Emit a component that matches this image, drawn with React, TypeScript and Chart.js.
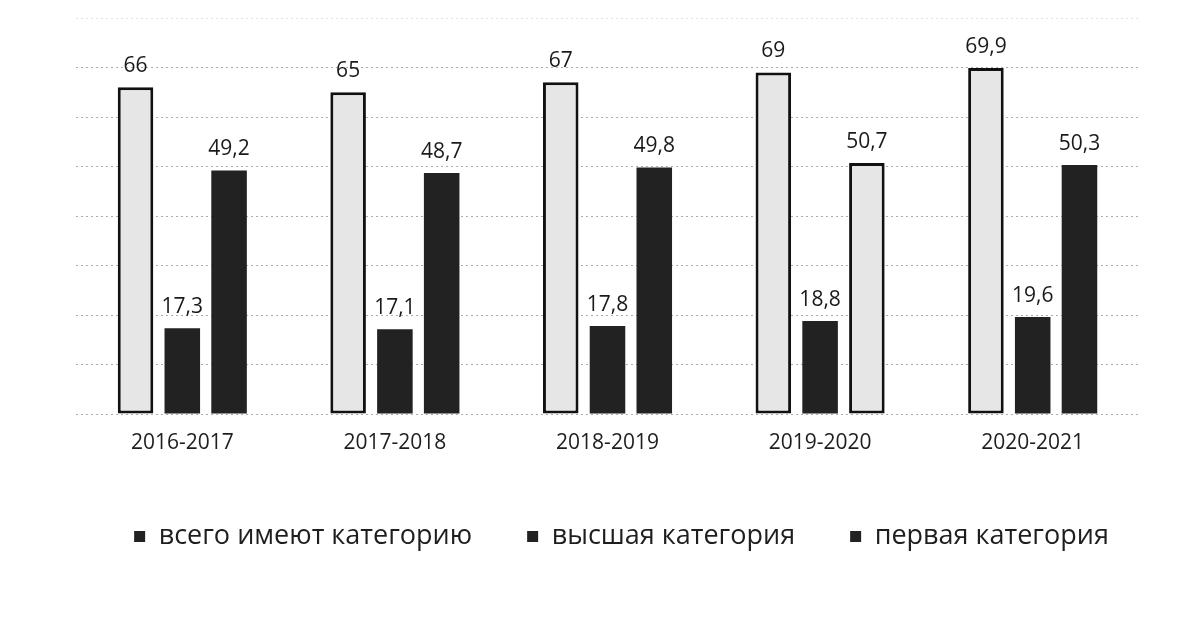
import React, { useEffect, useRef } from "react";
import { Chart, registerables } from "chart.js";

Chart.register(...registerables);

// ---- data ----
const years = ["2016-2017", "2017-2018", "2018-2019", "2019-2020", "2020-2021"];
const totalCategory = [66, 65, 67, 69, 69.9];
const highestCategory = [17.3, 17.1, 17.8, 18.8, 19.6];
const firstCategory = [49.2, 48.7, 49.8, 50.7, 50.3];
const seriesNames = ["всего имеют категорию", "высшая категория", "первая категория"];
const yMin = 0;
const yMax = 80;
const yStep = 10;

// ---- styles ----
const LIGHT = "#e6e6e6";
const DARK = "#222222";
const EDGE = "#111111";
const FONT = "'Open Sans', 'Noto Sans', sans-serif";
const firstFill = [DARK, DARK, DARK, LIGHT, DARK];
const firstBorder = [0, 0, 0, 3, 0];

const valueLabels = {
  id: "valueLabels",
  afterDatasetsDraw(chart: any) {
    const ctx = chart.ctx;
    ctx.save();
    ctx.font = `21px ${FONT}`;
    ctx.fillStyle = "#1a1a1a";
    ctx.textAlign = "center";
    ctx.textBaseline = "alphabetic";
    chart.data.datasets.forEach((ds: any, i: number) => {
      const meta = chart.getDatasetMeta(i);
      meta.data.forEach((bar: any, j: number) => {
        const v = ds.data[j];
        ctx.fillText(String(v).replace(".", ","), bar.x, bar.y - 15);
      });
    });
    ctx.restore();
  },
};

const legendShift = {
  id: "legendShift",
  afterLayout(chart: any) {
    const lg = chart.legend;
    if (!lg) return;
    const dx = 52;
    lg.left += dx;
    lg.right += dx;
  },
};

export default function App() {
  const ref = useRef<HTMLCanvasElement | null>(null);

  useEffect(() => {
    if (!ref.current) return;
    const chart = new Chart(ref.current, {
      type: "bar",
      data: {
        labels: years,
        datasets: [
          {
            label: seriesNames[0],
            data: totalCategory,
            backgroundColor: LIGHT,
            borderColor: EDGE,
            borderWidth: 3,
            borderSkipped: false,
          },
          {
            label: seriesNames[1],
            data: highestCategory,
            backgroundColor: DARK,
            borderWidth: 0,
          },
          {
            label: seriesNames[2],
            data: firstCategory,
            backgroundColor: firstFill,
            borderColor: EDGE,
            borderWidth: firstBorder,
            borderSkipped: false,
          },
        ],
      },
      options: {
        responsive: false,
        animation: false,
        devicePixelRatio: 1,
        datasets: {
          bar: { categoryPercentage: 0.66, barPercentage: 0.76 },
        },
        layout: { padding: { top: 18, left: 0, right: 43, bottom: 73 } },
        scales: {
          x: {
            grid: { display: false, drawTicks: false },
            border: { display: false },
            ticks: { font: { family: FONT, size: 21 }, color: "#1e1e1e", padding: 16 },
            afterFit: (s: any) => {
              s.height = 54;
            },
          },
          y: {
            min: yMin,
            max: yMax,
            ticks: { display: false, stepSize: yStep },
            grid: {
              color: (c: any) => (c.tick && c.tick.value === yMax ? "#e2e2e2" : "#acacac"),
              lineWidth: 1,
              drawTicks: false,
            },
            border: { display: false, dash: [2, 3] },
            afterFit: (s: any) => {
              s.width = 76;
            },
          },
        },
        plugins: {
          tooltip: { enabled: false },
          legend: {
            position: "bottom",
            labels: {
              font: { family: FONT, size: 27 },
              color: "#1e1e1e",
              boxWidth: 11,
              boxHeight: 11,
              padding: 55,
              generateLabels: (chart: any) =>
                chart.data.datasets.map((ds: any, i: number) => ({
                  text: ds.label,
                  fillStyle: DARK,
                  strokeStyle: DARK,
                  lineWidth: 0,
                  hidden: false,
                  datasetIndex: i,
                  fontColor: "#1e1e1e",
                })),
            },
          },
        },
      },
      plugins: [valueLabels, legendShift],
    });
    return () => chart.destroy();
  }, []);

  return (
    <div style={{ position: "fixed", left: 0, top: 0, width: 1182, height: 633, background: "#fff" }}>
      <canvas ref={ref} width={1182} height={633} />
    </div>
  );
}
